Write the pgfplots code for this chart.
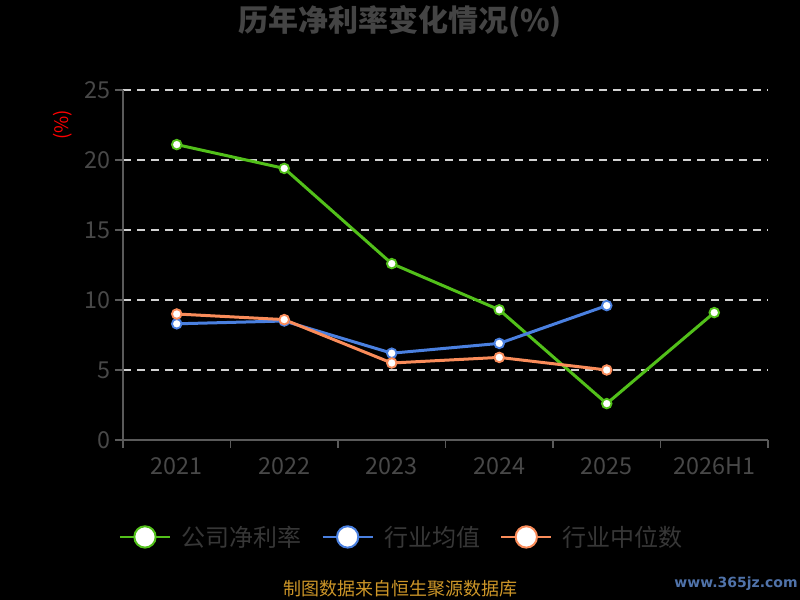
\documentclass[border=0pt]{standalone}
\usepackage{pgfplots}
\pgfplotsset{compat=1.18}
\usepackage{fontspec}
\setmainfont{Noto Sans CJK SC}
\newfontfamily\wmfont{DejaVu Sans}
\definecolor{cgreen}{RGB}{82,192,26}
\definecolor{cblue}{RGB}{74,128,224}
\definecolor{corange}{RGB}{250,140,90}
\definecolor{titlegray}{RGB}{68,68,68}
\definecolor{tickgray}{RGB}{72,72,72}
\definecolor{axisgray}{RGB}{90,90,90}
\definecolor{gridgray}{RGB}{210,210,210}
\definecolor{legtext}{RGB}{55,55,55}
\definecolor{footgold}{RGB}{205,150,40}
\definecolor{wmblue}{RGB}{80,115,170}
\begin{document}
\begin{tikzpicture}
\fill[black] (0,0) rectangle (600pt,450pt);
\useasboundingbox (0,0) rectangle (600pt,450pt);
\node[text=titlegray, font=\fontsize{22.5pt}{26pt}\selectfont\bfseries] at (300pt,433.5pt) {历年净利率变化情况(\%)};
\begin{axis}[
  at={(92.25pt,120pt)}, anchor=south west,
  scale only axis, width=483.75pt, height=262.5pt,
  xmin=-0.5, xmax=5.5, ymin=0, ymax=25,
  axis x line*=bottom, axis y line*=left,
  axis line style={axisgray, line width=1.2pt, -},
  xtick={0,1,2,3,4,5},
  xticklabels={2021,2022,2023,2024,2025,2026H1},
  minor xtick={-0.5,0.5,1.5,2.5,3.5,4.5,5.5},
  ytick={0,5,10,15,20,25},
  tick align=outside,
  major x tick style={draw=none},
  minor x tick style={axisgray, line width=1.2pt},
  minor tick length=6pt,
  major y tick style={axisgray, line width=1.2pt},
  major tick length=6pt,
  ymajorgrids,
  major grid style={gridgray, line width=1.2pt, dash pattern=on 6pt off 4.5pt},
  /pgf/number format/assume math mode=true,
  ticklabel style={text=tickgray, font=\fontsize{17.5pt}{20pt}\selectfont},
  xticklabel style={yshift=-3.5pt},
  ylabel={(\%)},
  ylabel style={at={(axis description cs:-0.093,0.9)}, anchor=center, text=red, font=\fontsize{14pt}{16pt}\selectfont},
  legend columns=3,
  legend style={at={(axis description cs:0.431,-0.277)}, anchor=center, draw=none, fill=none,
    text=legtext, font=\fontsize{18pt}{20pt}\selectfont, inner sep=0pt,
    nodes={inner xsep=0pt, inner ysep=2pt},
    /tikz/every odd column/.append style={column sep=8pt},
    /tikz/every even column/.append style={column sep=15pt}},
  legend image code/.code={
    \draw[line width=1.5pt] (0pt,0pt) -- (37.5pt,0pt);
    \draw[line width=1.5pt, fill=white] (18.75pt,0pt) circle (8pt);
  },
]
\addplot[cgreen, line width=2.25pt, mark=*, mark size=3.6pt, mark options={fill=white, draw=cgreen, line width=1.4pt}]
  coordinates {(0,21.1)(1,19.4)(2,12.6)(3,9.3)(4,2.6)(5,9.1)};
\addlegendentry{公司净利率}
\addplot[cblue, line width=2.25pt, mark=*, mark size=3.6pt, mark options={fill=white, draw=cblue, line width=1.4pt}]
  coordinates {(0,8.3)(1,8.5)(2,6.2)(3,6.9)(4,9.6)};
\addlegendentry{行业均值}
\addplot[corange, line width=2.25pt, mark=*, mark size=3.6pt, mark options={fill=white, draw=corange, line width=1.4pt}]
  coordinates {(0,9.0)(1,8.6)(2,5.5)(3,5.9)(4,5.0)};
\addlegendentry{行业中位数}
\end{axis}
\node[text=footgold, font=\fontsize{13.5pt}{15pt}\selectfont] at (300pt,8.25pt) {制图数据来自恒生聚源数据库};
\node[text=wmblue, font=\wmfont\bfseries\fontsize{10.5pt}{12pt}\selectfont] at (552pt,12pt) {www.365jz.com};
\end{tikzpicture}
\end{document}
